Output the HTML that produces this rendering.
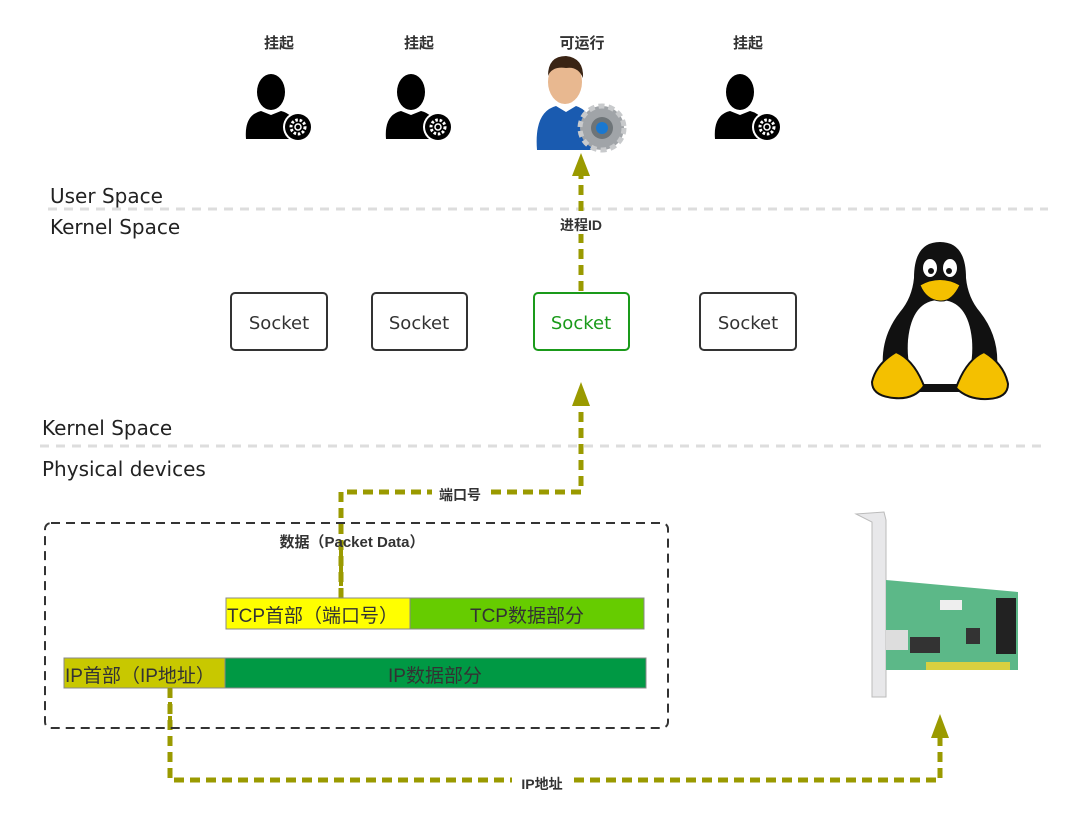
<!DOCTYPE html>
<html><head><meta charset="utf-8"><style>
html,body{margin:0;padding:0;background:#fff;}
svg{display:block;}
.t{font-family:"Liberation Sans","Noto Sans CJK SC",sans-serif;}
.c{font-family:"Comic Sans MS","DejaVu Sans","Liberation Sans",sans-serif;}
</style></head><body>
<svg width="1080" height="813" viewBox="0 0 1080 813" xmlns="http://www.w3.org/2000/svg">
<defs>
<g id="p">
 <ellipse cx="0" cy="-13" rx="14" ry="18" fill="#000"/>
 <path d="M-25 34 Q-27 10 -10 6 L0 10 L10 6 Q27 10 27 34 Z" fill="#000"/>
 <circle cx="27" cy="22" r="15" fill="#fff"/>
 <circle cx="27" cy="22" r="13" fill="#000"/>
 <circle cx="27" cy="22" r="7" fill="none" stroke="#fff" stroke-width="3" stroke-dasharray="2.5 1.8"/>
 <circle cx="27" cy="22" r="3" fill="#000" stroke="#fff" stroke-width="1.5"/>
</g>
</defs>
<g class="t" font-weight="bold" font-size="15" fill="#333" text-anchor="middle">
 <text x="279" y="48">挂起</text>
 <text x="419" y="48">挂起</text>
 <text x="582" y="48">可运行</text>
 <text x="748" y="48">挂起</text>
</g>
<use href="#p" x="271" y="105"/>
<use href="#p" x="411" y="105"/>
<use href="#p" x="740" y="105"/>
<!-- blue person -->
<ellipse cx="565" cy="82" rx="17" ry="22" fill="#e8b890"/>
<path d="M548 76 Q548 56 566 56 Q584 58 583 78 Q578 66 566 68 Q552 66 548 76Z" fill="#3a2414"/>
<path d="M537 150 Q534 112 556 106 L566 112 L576 106 Q596 112 596 150 Z" fill="#1a5bb0"/>
<circle cx="602" cy="128" r="22" fill="#a0a4a8" stroke="#c8cacc" stroke-width="5" stroke-dasharray="6 4"/>
<circle cx="602" cy="128" r="11" fill="#6d7478"/>
<circle cx="602" cy="128" r="6" fill="#1a78d0"/>
<!-- dashed separators -->
<line x1="48" y1="209" x2="1048" y2="209" stroke="#ddd" stroke-width="3" stroke-dasharray="9 7"/>
<line x1="40" y1="446" x2="1048" y2="446" stroke="#ddd" stroke-width="3" stroke-dasharray="9 7"/>
<g class="c" font-size="20" fill="#222">
 <text x="50" y="203">User Space</text>
 <text x="50" y="234">Kernel Space</text>
 <text x="42" y="435">Kernel Space</text>
 <text x="42" y="476">Physical devices</text>
</g>
<!-- sockets -->
<g fill="#fff" stroke="#333" stroke-width="2">
 <rect x="231" y="293" width="96" height="57" rx="4"/>
 <rect x="372" y="293" width="95" height="57" rx="4"/>
 <rect x="700" y="293" width="96" height="57" rx="4"/>
</g>
<rect x="534" y="293" width="95" height="57" rx="4" fill="#fff" stroke="#1a9a1a" stroke-width="2"/>
<g class="c" font-size="18" text-anchor="middle" fill="#333">
 <text x="279" y="329">Socket</text>
 <text x="419" y="329">Socket</text>
 <text x="581" y="329" fill="#1a9a1a">Socket</text>
 <text x="748" y="329">Socket</text>
</g>
<!-- connectors -->
<g stroke="#9a9a00" stroke-width="5" fill="none" stroke-dasharray="10 6">
 <line x1="581" y1="291" x2="581" y2="172"/>
 <polyline points="341,598 341,492 581,492 581,405"/>
 <polyline points="170,688 170,780 940,780 940,738"/>
</g>
<g fill="#9a9a00">
 <polygon points="581,153 572,176 590,176"/>
 <polygon points="581,382 572,406 590,406"/>
 <polygon points="940,714 931,738 949,738"/>
</g>
<g class="t" font-weight="bold" font-size="14" fill="#333" text-anchor="middle">
 <rect x="553" y="216" width="56" height="18" fill="#fff"/>
 <text x="581" y="230">进程ID</text>
 <rect x="432" y="486" width="58" height="16" fill="#fff"/>
 <text x="460" y="500">端口号</text>
 <rect x="512" y="774" width="60" height="16" fill="#fff"/>
 <text x="542" y="789">IP地址</text>
</g>
<!-- packet box -->
<rect x="45" y="523" width="623" height="205" rx="6" fill="none" stroke="#333" stroke-width="2" stroke-dasharray="9 6"/>
<text x="352" y="547" class="t" font-weight="bold" font-size="15" fill="#333" text-anchor="middle">数据（Packet Data）</text>
<line x1="341" y1="550" x2="341" y2="598" stroke="#9a9a00" stroke-width="4" stroke-dasharray="8 6"/>
<rect x="226" y="598" width="184" height="31" fill="#ffff00" stroke="#888" stroke-width="1"/>
<rect x="410" y="598" width="234" height="31" fill="#66cc00" stroke="#888" stroke-width="1"/>
<rect x="64" y="658" width="161" height="30" fill="#c8c800" stroke="#888" stroke-width="1"/>
<rect x="225" y="658" width="421" height="30" fill="#009944" stroke="#888" stroke-width="1"/>
<g class="t" font-size="19" fill="#333">
 <text x="227" y="622">TCP首部（端口号）</text>
 <text x="527" y="622" text-anchor="middle">TCP数据部分</text>
 <text x="65" y="682">IP首部（IP地址）</text>
 <text x="435" y="682" text-anchor="middle">IP数据部分</text>
</g>
<line x1="170" y1="688" x2="170" y2="728" stroke="#9a9a00" stroke-width="4" stroke-dasharray="8 6"/>
<!-- penguin -->
<g>
 <path d="M940 242 Q914 242 914 278 Q912 298 900 312 Q878 340 884 376 L900 392 L980 392 L996 376 Q1002 340 980 312 Q968 298 966 278 Q966 242 940 242Z" fill="#111"/>
 <path d="M940 300 Q912 300 908 340 Q906 370 918 384 L962 384 Q974 370 972 340 Q968 300 940 300Z" fill="#fff"/>
 <ellipse cx="930" cy="268" rx="7" ry="9" fill="#fff"/>
 <ellipse cx="950" cy="268" rx="7" ry="9" fill="#fff"/>
 <circle cx="931" cy="271" r="3" fill="#111"/><circle cx="949" cy="271" r="3" fill="#111"/>
 <path d="M920 285 Q940 274 960 285 Q952 302 940 301 Q926 300 920 285Z" fill="#f4c000" stroke="#111" stroke-width="1"/>
 <path d="M872 382 Q876 364 896 352 Q914 360 924 386 Q914 400 894 398 Q872 396 872 382Z" fill="#f4c000" stroke="#111" stroke-width="2"/>
 <path d="M1008 384 Q1004 364 984 352 Q966 360 956 388 Q968 400 988 399 Q1008 398 1008 384Z" fill="#f4c000" stroke="#111" stroke-width="2"/>
</g>
<!-- NIC -->
<g>
 <path d="M856 514 L884 512 L886 520 L886 697 L872 697 L872 522 Z" fill="#e8e8ea" stroke="#bbb"/>
 <path d="M886 580 L1018 592 L1018 670 L886 670 Z" fill="#5cb888"/>
 <rect x="926" y="662" width="84" height="8" fill="#d8d040"/>
 <rect x="996" y="598" width="20" height="56" fill="#222"/>
 <rect x="910" y="637" width="30" height="16" fill="#333"/>
 <rect x="966" y="628" width="14" height="16" fill="#333"/>
 <rect x="886" y="630" width="22" height="20" fill="#ddd"/>
 <rect x="940" y="600" width="22" height="10" fill="#eee"/>
</g>
</svg>
</body></html>
